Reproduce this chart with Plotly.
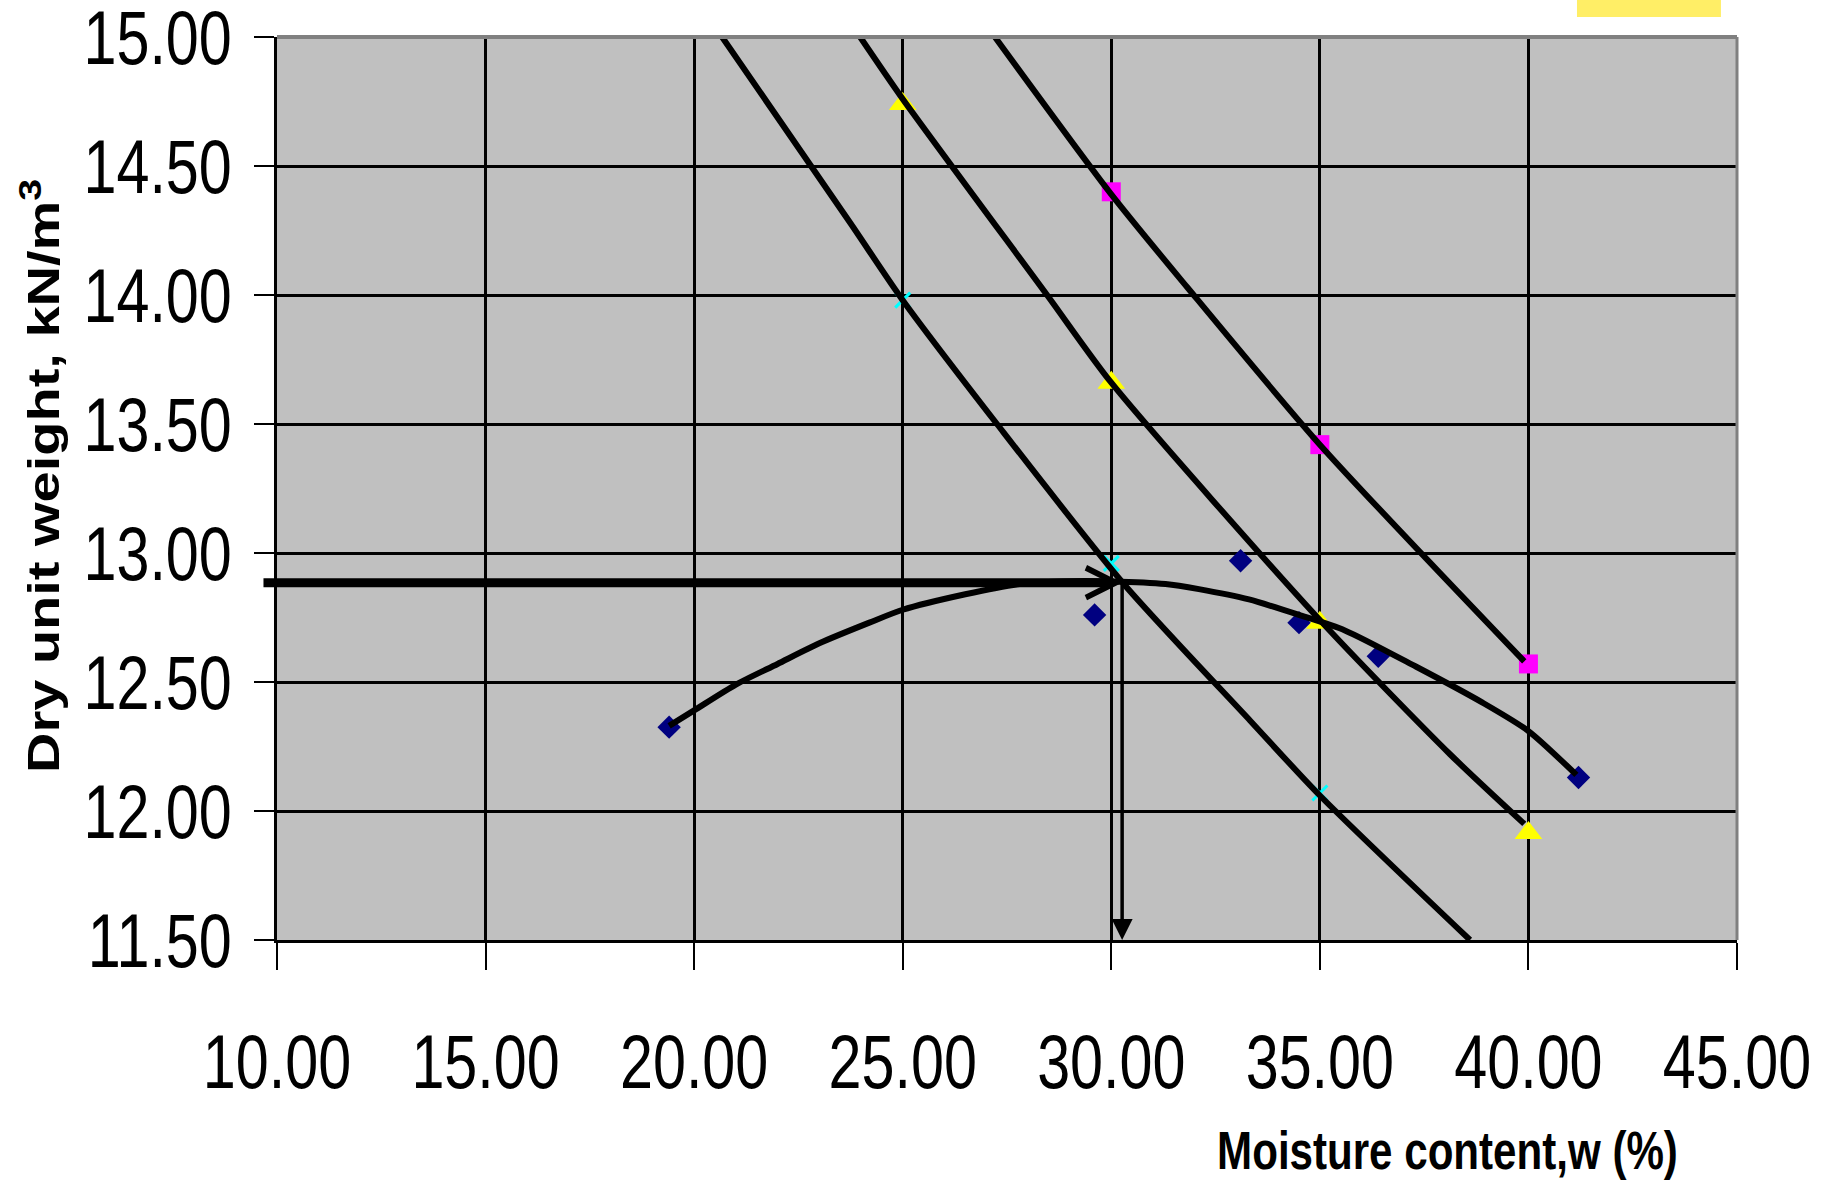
import plotly.graph_objects as go

# ---- data ----
# compaction test points (moisture %, dry unit weight kN/m3)
comp_w = [19.4, 29.6, 33.1, 34.5, 36.4, 41.2]
comp_g = [12.325, 12.76, 12.97, 12.73, 12.60, 12.13]

# smooth compaction curve
curve_w = [19.4, 20.0, 21.0, 22.0, 23.0, 24.2, 25.0, 26.5, 27.8, 28.8, 30.0, 31.3, 32.1,
           33.3, 34.5, 35.6, 37.3, 38.9, 40.0, 41.15]
curve_g = [12.33, 12.39, 12.49, 12.57, 12.65, 12.73, 12.78, 12.84, 12.88, 12.89, 12.89,
           12.88, 12.86, 12.82, 12.76, 12.70, 12.56, 12.42, 12.31, 12.14]

# saturation lines and their markers
cyan_w = [25, 30, 35]
cyan_g = [13.98, 12.96, 12.07]
cyan_line_w = [20.67, 23.74, 25.0, 27.26, 30.3, 33.33, 35.0, 38.6]
cyan_line_g = [15.0, 14.28, 13.98, 13.50, 12.88, 12.35, 12.06, 11.5]

yellow_w = [25, 30, 35, 40]
yellow_g = [14.74, 13.66, 12.73, 11.915]
yellow_line_w = [23.98, 25.0, 28.46, 30.0, 35.0, 38.12, 39.9]
yellow_line_g = [15.0, 14.76, 14.0, 13.66, 12.74, 12.22, 11.95]

magenta_w = [30, 35, 40]
magenta_g = [14.40, 13.42, 12.57]
magenta_line_w = [27.21, 30.0, 31.82, 35.0, 39.9]
magenta_line_g = [15.0, 14.39, 14.03, 13.42, 12.58]

# optimum read-off
w_opt = 30.26
gd_max = 12.885
arrow_start_w = 9.64

x_ticks = [10, 15, 20, 25, 30, 35, 40, 45]
y_ticks = [11.5, 12.0, 12.5, 13.0, 13.5, 14.0, 14.5, 15.0]

FONT = "Liberation Sans, Arial, Helvetica, sans-serif"

fig = go.Figure()

# markers (under the lines)
fig.add_trace(go.Scatter(x=cyan_w, y=cyan_g, mode="markers",
                         marker=dict(symbol="x-thin", size=15, line=dict(color="#00FFFF", width=3)),
                         showlegend=False))
fig.add_trace(go.Scatter(x=yellow_w, y=yellow_g, mode="markers",
                         marker=dict(symbol="triangle-up", size=24, color="#FFFF00"),
                         showlegend=False))
fig.add_trace(go.Scatter(x=magenta_w, y=magenta_g, mode="markers",
                         marker=dict(symbol="square", size=19, color="#FF00FF"),
                         showlegend=False))
fig.add_trace(go.Scatter(x=comp_w, y=comp_g, mode="markers",
                         marker=dict(symbol="diamond", size=18, color="#000080"),
                         showlegend=False))

# lines
for xs, ys in [(cyan_line_w, cyan_line_g), (yellow_line_w, yellow_line_g),
               (magenta_line_w, magenta_line_g), (curve_w, curve_g)]:
    fig.add_trace(go.Scatter(x=xs, y=ys, mode="lines",
                             line=dict(color="black", width=6, shape="spline", smoothing=0.7),
                             showlegend=False, cliponaxis=False))

# arrows
fig.add_annotation(x=w_opt, y=gd_max, ax=arrow_start_w, ay=gd_max, xref="x", yref="y",
                   axref="x", ayref="y", text="", showarrow=True, arrowhead=5,
                   arrowwidth=9, arrowsize=0.65, arrowcolor="black")
fig.add_annotation(x=w_opt, y=y_ticks[0], ax=w_opt, ay=gd_max, xref="x", yref="y",
                   axref="x", ayref="y", text="", showarrow=True, arrowhead=2,
                   arrowwidth=3.5, arrowsize=1.2, arrowcolor="black")

# axis titles
fig.add_annotation(text="<b>Dry unit weight, kN/m<sup>3</sup></b>", xref="paper", yref="paper",
                   x=-0.1616, y=0.5138, textangle=-90, showarrow=False,
                   xanchor="center", yanchor="middle",
                   font=dict(family=FONT, size=56, color="black"))
fig.add_annotation(text="<b>Moisture content,w (%)</b>", xref="paper", yref="paper",
                   x=0.8014, y=-0.2326, showarrow=False, xanchor="center", yanchor="middle",
                   font=dict(family=FONT, size=54, color="black"))

# plot border (top / right) in grey, and the cut-off legend box
fig.add_shape(type="line", xref="paper", yref="paper", x0=0, x1=1, y0=1, y1=1,
              line=dict(color="#808080", width=4), layer="above")
fig.add_shape(type="line", xref="paper", yref="paper", x0=1, x1=1, y0=0, y1=1,
              line=dict(color="#808080", width=3), layer="above")
fig.add_shape(type="rect", xref="paper", yref="paper", x0=0.8904, x1=0.989, y0=1.0221, y1=1.045,
              line=dict(width=0), fillcolor="#FFEE66", layer="above")

fig.update_layout(
    width=1831, height=1182,
    margin=dict(l=277, r=94, t=37, b=242, autoexpand=False),
    plot_bgcolor="#C0C0C0", paper_bgcolor="white",
    showlegend=False,
)
fig.update_xaxes(range=[10, 45], tickvals=x_ticks, tickformat=".2f", automargin=False,
                 showgrid=True, gridcolor="black", gridwidth=2.5, zeroline=False,
                 showline=True, linecolor="black", linewidth=3,
                 ticks="outside", ticklen=27, tickwidth=2, tickcolor="black",
                 tickfont=dict(family=FONT, size=76, color="black"),
                 ticklabelstandoff=27, ticklabeloverflow="allow")
fig.update_yaxes(range=[11.5, 15], tickvals=y_ticks, tickformat=".2f", automargin=False,
                 showgrid=True, gridcolor="black", gridwidth=2.5, zeroline=False,
                 showline=True, linecolor="black", linewidth=3,
                 ticks="outside", ticklen=20, tickwidth=2, tickcolor="black",
                 tickfont=dict(family=FONT, size=76, color="black"),
                 ticklabelstandoff=7, ticklabeloverflow="allow")

# the reference's text is horizontally condensed; squeeze the rendered text to match
POST = """
document.body.style.margin='0px';
var gd = document.querySelector('.plotly-graph-div');
function squeeze(el, s, mode){
  var svg = el.ownerSVGElement || el;
  var r = el.getBoundingClientRect();
  var p = el.parentNode;
  var m = p.getScreenCTM().inverse();
  var pt = svg.createSVGPoint();
  pt.x = (mode === 'right') ? r.right : (r.left + r.right) / 2;
  pt.y = (r.top + r.bottom) / 2;
  var q = pt.matrixTransform(m);
  var t = el.getAttribute('transform') || '';
  el.setAttribute('transform', 'translate(' + q.x + ',0) scale(' + s + ',1) translate(' + (-q.x) + ',0) ' + t);
}
gd.querySelectorAll('.xtick text').forEach(function(e){ squeeze(e, 0.78, 'center'); });
gd.querySelectorAll('.ytick text').forEach(function(e){ squeeze(e, 0.78, 'right'); });
gd.querySelectorAll('.annotation').forEach(function(e){ if (e.textContent.trim()) squeeze(e, 0.78, 'center'); });
"""

fig.write_html("out.html", config={"displayModeBar": False}, post_script=POST)
